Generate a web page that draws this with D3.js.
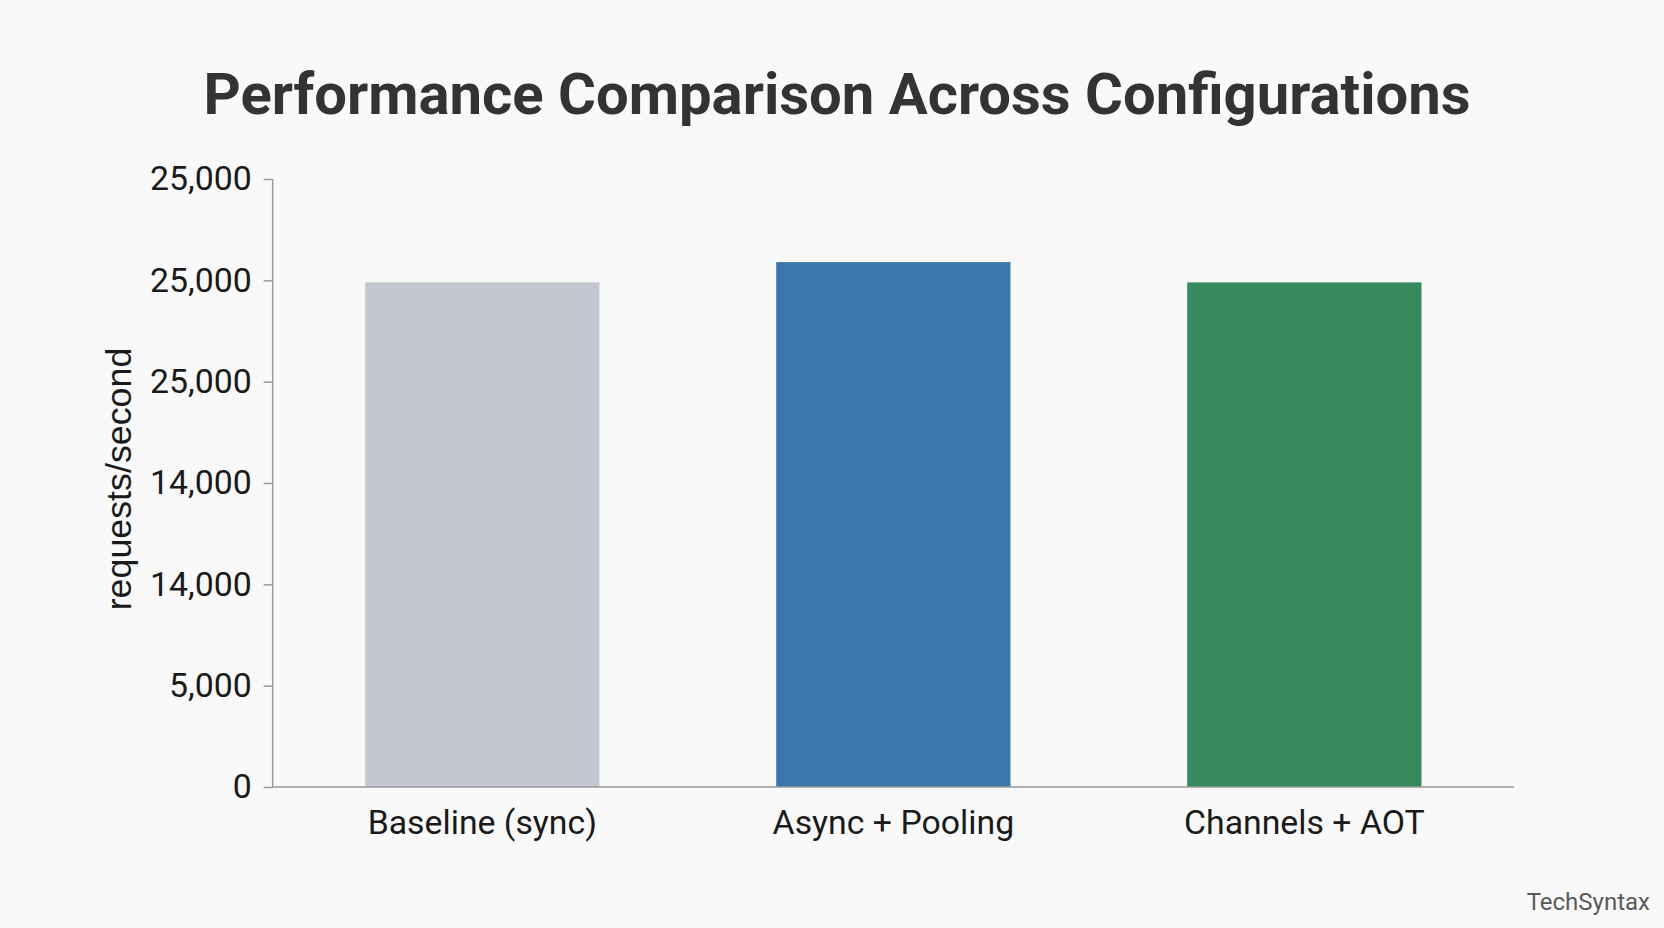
<!DOCTYPE html>
<html><head><meta charset="utf-8">
<script src="https://cdn.jsdelivr.net/npm/d3@7"></script>
<style>
html,body{margin:0;padding:0;background:#f9f9f9;}
svg{display:block;}
</style></head>
<body>
<svg id="chart" width="1664" height="928"></svg>
<script>
const categories = ["Baseline (sync)", "Async + Pooling", "Channels + AOT"];
const values = [24900, 25900, 24900];
const barColors = ["#c3c8d0", "#3a77ab", "#368a5e"];
const tickValues = [0, 5000, 10000, 15000, 20000, 25000, 30000];
const tickLabels = ["0", "5,000", "14,000", "14,000", "25,000", "25,000", "25,000"];
const titleText = "Performance Comparison Across Configurations";
const yAxisTitle = "requests/second";
const watermark = "TechSyntax";

const svg = d3.select("#chart");
const W = 1664, H = 928;
svg.append("rect").attr("width", W).attr("height", H).attr("fill", "#f9f9f9");

const x = d3.scaleBand().domain(categories).range([272.7, 1514]).paddingInner(0.43).paddingOuter(0.225);
const y = d3.scaleLinear().domain([0, 30000]).range([787, 179]);

// bars
svg.append("g").selectAll("rect").data(categories).join("rect")
  .attr("x", d => x(d))
  .attr("y", (d, i) => y(values[i]))
  .attr("width", x.bandwidth())
  .attr("height", (d, i) => y(0) - y(values[i]))
  .attr("fill", (d, i) => barColors[i]);

// y axis
const yAxis = d3.axisLeft(y).tickValues(tickValues).tickFormat((d, i) => tickLabels[i]).tickSize(9).tickPadding(12);
const gy = svg.append("g").attr("transform", "translate(272.7,0)").call(yAxis);
gy.select(".domain").attr("stroke", "#9a9a9a").attr("stroke-width", 1.5).attr("d", `M0,${y(30000)}V${y(0)}`);
gy.selectAll(".tick line").attr("stroke", "#9a9a9a").attr("stroke-width", 1.5);
gy.selectAll(".tick text").attr("font-family", "Roboto").attr("font-size", 33.8).attr("fill", "#1a1a1a");

// x axis
const xAxis = d3.axisBottom(x).tickSize(0).tickPadding(23);
const gx = svg.append("g").attr("transform", `translate(0,${y(0)})`).call(xAxis);
gx.select(".domain").attr("stroke", "#9a9a9a").attr("stroke-width", 1.5).attr("d", "M272.7,0H1514");
gx.selectAll(".tick text").attr("font-family", "Roboto").attr("font-size", 33.8).attr("fill", "#1a1a1a");

// title
svg.append("text").attr("x", 837).attr("y", 114).attr("text-anchor", "middle")
  .attr("font-family", "Roboto").attr("font-weight", 700).attr("font-size", 58)
  .attr("fill", "#333333").text(titleText);

// y axis title
svg.append("text").attr("transform", "translate(131,479) rotate(-90)").attr("text-anchor", "middle")
  .attr("font-family", "Liberation Sans").attr("font-size", 35.8)
  .attr("fill", "#1a1a1a").text(yAxisTitle);

// watermark
svg.append("text").attr("x", 1650).attr("y", 910).attr("text-anchor", "end")
  .attr("font-family", "Roboto").attr("font-size", 24)
  .attr("fill", "#5a5a5a").text(watermark);
</script>
</body></html>
